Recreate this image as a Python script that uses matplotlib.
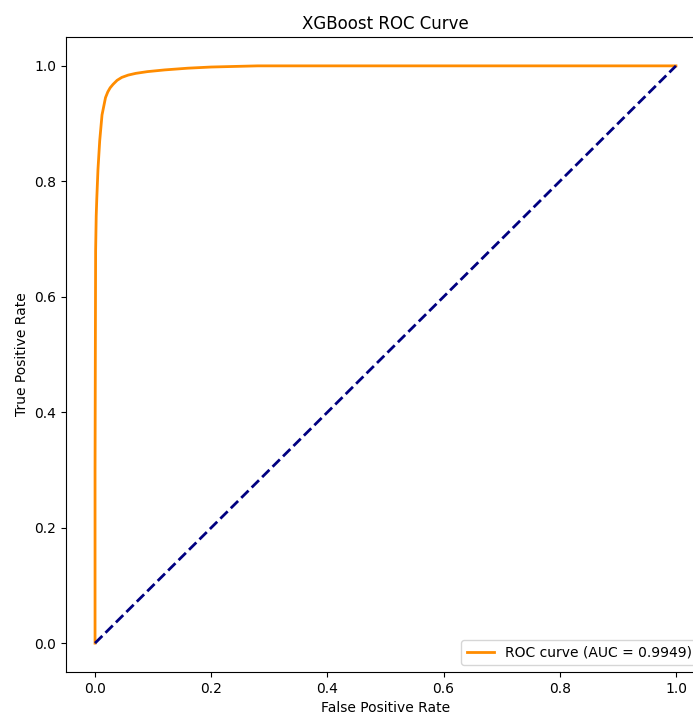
import matplotlib
matplotlib.use('Agg')
import matplotlib.pyplot as plt

fpr = [0.0, 0.0, 0.0005, 0.001, 0.002, 0.003, 0.005, 0.008, 0.012, 0.018,
       0.022, 0.026, 0.031, 0.038, 0.046, 0.057, 0.07, 0.09, 0.12, 0.16,
       0.2, 0.28, 1.0]
tpr = [0.0, 0.3, 0.5, 0.68, 0.74, 0.77, 0.82, 0.87, 0.915, 0.945,
       0.955, 0.962, 0.968, 0.975, 0.98, 0.984, 0.987, 0.990, 0.993, 0.996,
       0.998, 1.0, 1.0]
roc_auc = 0.9949

fig = plt.figure(figsize=(6.93, 7.15), dpi=100)
ax = fig.add_axes([66/693, 43/715, 639/693, 635/715])

ax.plot(fpr, tpr, color='darkorange', lw=2, label=f'ROC curve (AUC = {roc_auc:.4f})')
ax.plot([0, 1], [0, 1], color='navy', lw=2, linestyle='--')

ax.set_xlabel('False Positive Rate')
ax.set_ylabel('True Positive Rate')
ax.set_title('XGBoost ROC Curve')
ax.legend(loc='lower right')

fig.savefig('out.png', dpi=100)
